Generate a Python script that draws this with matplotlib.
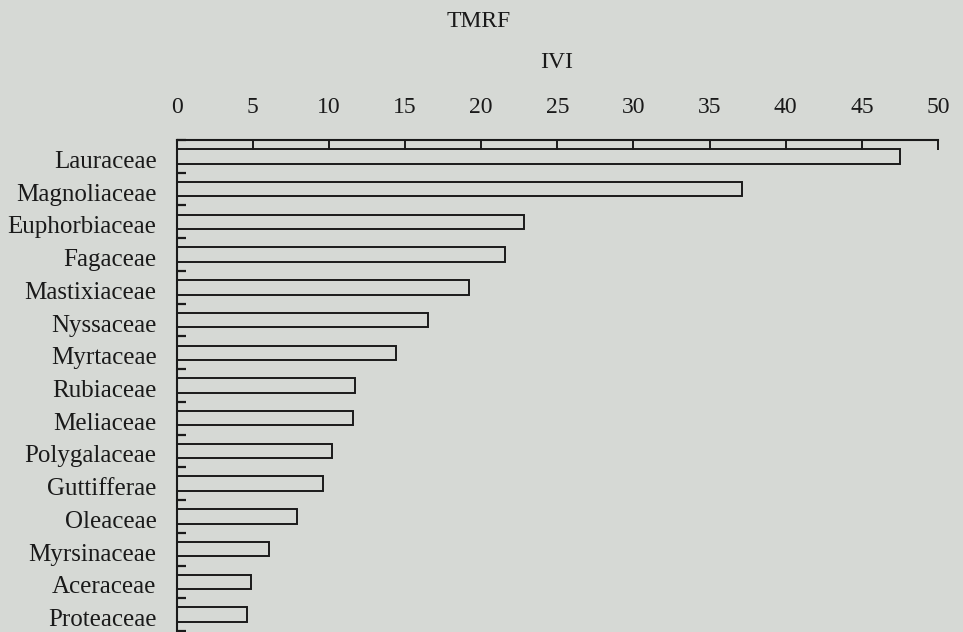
import numpy as np
import matplotlib
matplotlib.use('Agg')
import matplotlib.pyplot as plt
import matplotlib.transforms as mtransforms

# IVI values for TMRF families
families = ['Lauraceae', 'Magnoliaceae', 'Euphorbiaceae', 'Fagaceae', 'Mastixiaceae',
            'Nyssaceae', 'Myrtaceae', 'Rubiaceae', 'Meliaceae', 'Polygalaceae',
            'Guttifferae', 'Oleaceae', 'Myrsinaceae', 'Aceraceae', 'Proteaceae']
ivi = [47.5, 37.1, 22.8, 21.6, 19.2,
       16.5, 14.4, 11.7, 11.6, 10.2,
       9.6, 7.9, 6.1, 4.9, 4.6]
x_ticks = [0, 5, 10, 15, 20, 25, 30, 35, 40, 45, 50]

plt.rcParams['font.family'] = ['Liberation Serif', 'DejaVu Serif']
bg = '#d6d9d5'

fig = plt.figure(figsize=(9.63, 6.32), dpi=100, facecolor=bg)
ax = fig.add_axes([176.5 / 963, 1 - 631 / 632, (938 - 176.5) / 963, (631 - 140) / 632])
ax.set_facecolor(bg)

y = np.arange(len(families))
ax.barh(y, ivi, height=0.44, facecolor='none', edgecolor='#1a1a1a', linewidth=1.4)

ax.set_xlim(0, 50)
ax.set_ylim(len(families) - 0.5, -0.5)

# x axis on top, ticks pointing into the plot
ax.xaxis.tick_top()
ax.set_xticks(x_ticks)
ax.tick_params(axis='x', direction='in', length=7.2, width=1.4, pad=16,
               labelsize=17, colors='#1a1a1a')

# category ticks sit on the boundaries between bars
ax.set_yticks(y)
ax.set_yticklabels(families)
ax.set_yticks(np.arange(len(families) + 1) - 0.5, minor=True)
ax.tick_params(axis='y', which='major', length=0, pad=14.4, labelsize=18,
               colors='#1a1a1a')
ax.tick_params(axis='y', which='minor', direction='in', length=6.2, width=1.6,
               color='#1a1a1a')
# nudge family names down a few pixels to line up with the bars
shift = mtransforms.ScaledTranslation(0, -0.03, fig.dpi_scale_trans)
for lbl in ax.get_yticklabels():
    lbl.set_transform(lbl.get_transform() + shift)

for side in ['right', 'bottom']:
    ax.spines[side].set_visible(False)
for side in ['top', 'left']:
    ax.spines[side].set_linewidth(1.5)
    ax.spines[side].set_color('#1a1a1a')

fig.text(479 / 963, 1 - 27 / 632, 'TMRF', ha='center', va='baseline',
         fontsize=17, color='#1a1a1a')
fig.text(557 / 963, 1 - 68 / 632, 'IVI', ha='center', va='baseline',
         fontsize=17, color='#1a1a1a')

fig.savefig('out.png', dpi=100, facecolor=bg)
